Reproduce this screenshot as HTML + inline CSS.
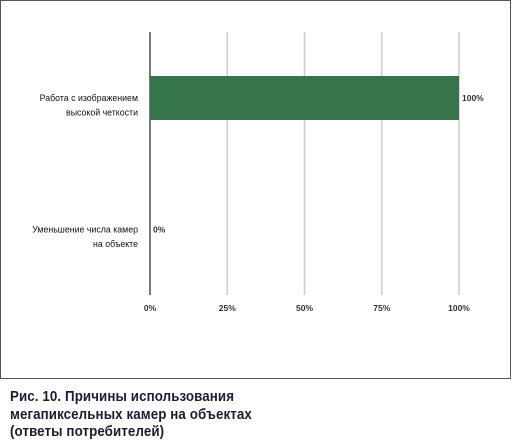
<!DOCTYPE html>
<html><head><meta charset="utf-8"><style>
body{margin:0;background:#fff;}
#wrap{position:relative;width:512px;height:443px;overflow:hidden;font-family:"Liberation Sans",sans-serif;}
#frame{position:absolute;left:0;top:0;width:509px;height:377px;border:1px solid #555;}
#cap{position:absolute;left:10px;top:389px;font-size:14.5px;font-weight:bold;line-height:17.5px;color:#1c1c34;transform:scaleX(0.92);transform-origin:left top;letter-spacing:0.1px;}
</style></head><body>
<div id="wrap">
<div id="frame"></div>
<svg id="chart" width="512" height="380" style="position:absolute;left:0;top:0"></svg>
<div id="cap">Рис. 10. Причины использования<br>мегапиксельных камер на объектах<br>(ответы потребителей)</div>
</div>
<script>
const categories=[["Работа с изображением","высокой четкости"],["Уменьшение числа камер","на объекте"]];
const values=[100,0];
const ticks=[0,25,50,75,100];
const tickLabels=["0%","25%","50%","75%","100%"];
const svg=document.getElementById('chart');
const NS="http://www.w3.org/2000/svg";
const x0=150,x1=459,yTop=32,yBot=295;
function xs(v){return x0+(x1-x0)*v/100;}
function mk(t,a){const e=document.createElementNS(NS,t);for(const k in a)e.setAttribute(k,a[k]);svg.appendChild(e);return e;}
ticks.forEach((t,i)=>{
 const l=mk('line',{x1:xs(t),x2:xs(t),y1:yTop,y2:yBot,stroke:t===0?'#222':'#ccc','stroke-width':t===0?1.2:1.5});
 
 
 const tx=mk('text',{x:xs(t),y:311,'text-anchor':'middle','font-size':'8.5','font-weight':'bold',fill:'#333','font-family':'Liberation Sans, sans-serif'});
 tx.textContent=tickLabels[i];
 
 
});
const centers=[98,229.5];
categories.forEach((c,i)=>{
 const center=centers[i];
 const bh=44;
 const w=xs(values[i])-x0;
 if(w>0){
  const r=mk('rect',{x:x0,y:center-bh/2,width:w,height:bh,fill:'#367549'});
  
  
 }
 const v=mk('text',{x:xs(values[i])+3,y:center+3,'font-size':'8.5','font-weight':'bold',fill:'#333','font-family':'Liberation Sans, sans-serif'});
 v.textContent=values[i]+'%';
 
 
 c.forEach((ln,j)=>{
  const t=mk('text',{x:138,y:center+3+j*14.5,'text-anchor':'end','font-size':'8.8',fill:'#111','font-family':'Liberation Sans, sans-serif'});
  t.textContent=ln;
  
  
 });
});
</script>
</body></html>
